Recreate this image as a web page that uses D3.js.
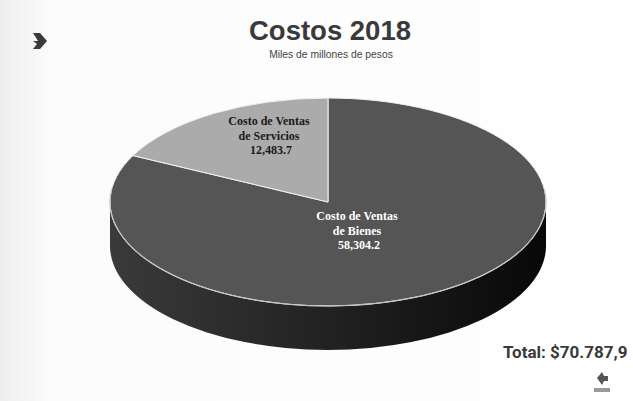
<!DOCTYPE html>
<html>
<head>
<meta charset="utf-8">
<script src="https://cdn.jsdelivr.net/npm/d3@7"></script>
<style>
  body { margin: 0; background: #fff; }
  svg { display: block; }
</style>
</head>
<body>
<svg id="chart" width="633" height="401"></svg>
<script>
// data
const categories = ["Costo de Ventas de Bienes", "Costo de Ventas de Servicios"];
const values = [58304.2, 12483.7];
const labelLines = [["Costo de Ventas", "de Bienes"], ["Costo de Ventas", "de Servicios"]];
const title = "Costos 2018";
const subtitle = "Miles de millones de pesos";

const W = 633, H = 401;
const cx = 328, cy = 202, rx = 218, ry = 104, depth = 44;

let svg = d3.select("#chart");
let defs = svg.append("defs");

// faint scan-like shading in background
let bg = defs.append("linearGradient").attr("id", "bgGrad")
    .attr("x1", 0).attr("y1", 0).attr("x2", 1).attr("y2", 0);
bg.append("stop").attr("offset", "0%").attr("stop-color", "#eeeeee");
bg.append("stop").attr("offset", "8%").attr("stop-color", "#fbfbfb");
bg.append("stop").attr("offset", "100%").attr("stop-color", "#ffffff");
svg.append("rect").attr("width", W).attr("height", H).attr("fill", "url(#bgGrad)");

let sideGrad = defs.append("linearGradient").attr("id", "sideGrad")
    .attr("x1", 0).attr("y1", 0).attr("x2", 1).attr("y2", 0);
sideGrad.append("stop").attr("offset", "0%").attr("stop-color", "#3a3a3a");
sideGrad.append("stop").attr("offset", "45%").attr("stop-color", "#242424");
sideGrad.append("stop").attr("offset", "100%").attr("stop-color", "#080808");

// title
svg.append("text")
    .attr("x", 330).attr("y", 40)
    .attr("text-anchor", "middle")
    .style("font-family", "Liberation Sans, Arial, sans-serif")
    .style("font-weight", "bold")
    .style("font-size", "27.5px")
    .attr("fill", "#3a3a3a")
    .text(title);
svg.append("text")
    .attr("x", 331).attr("y", 58)
    .attr("text-anchor", "middle")
    .style("font-family", "Liberation Sans, Arial, sans-serif")
    .style("font-size", "10.3px")
    .attr("fill", "#444")
    .text(subtitle);

// pie
let pie = d3.pie().sort(null).value(d => d);
let arcs = pie(values);

let pt = (a, dy) => [cx + rx * Math.sin(a), cy - ry * Math.cos(a) + (dy || 0)];

// side walls (front half only: angles PI/2 .. 3PI/2)
let sideG = svg.append("g");
arcs.forEach((d, i) => {
    let a0 = Math.max(d.startAngle, Math.PI / 2);
    let a1 = Math.min(d.endAngle, 3 * Math.PI / 2);
    if (a1 <= a0) return;
    let p0 = pt(a0), p1 = pt(a1), q1 = pt(a1, depth), q0 = pt(a0, depth);
    let large = (a1 - a0) > Math.PI ? 1 : 0;
    sideG.append("path")
        .attr("d", `M${p0}A${rx},${ry} 0 ${large} 1 ${p1}L${q1}A${rx},${ry} 0 ${large} 0 ${q0}Z`)
        .attr("fill", i === 0 ? "url(#sideGrad)" : "#777");
});

// top face
let arc = d3.arc().innerRadius(0).outerRadius(rx);
let colors = ["#555555", "#ababab"];
let topFace = svg.append("g")
    .attr("transform", `translate(${cx},${cy}) scale(1,${ry / rx})`);
topFace.selectAll("path")
    .data(arcs)
    .enter()
    .append("path")
    .attr("d", arc)
    .attr("fill", (d, i) => colors[i])
    .attr("stroke", "#f2f2f2")
    .attr("stroke-width", 1)
    .attr("vector-effect", "non-scaling-stroke");

// light rim along the front edge
{
    let p0 = pt(Math.PI / 2 - 0.12), p1 = pt(3 * Math.PI / 2 + 0.12);
    svg.append("path")
        .attr("d", `M${p0}A${rx},${ry} 0 1 1 ${p1}`)
        .attr("fill", "none")
        .attr("stroke", "#c4c4c4")
        .attr("stroke-width", 1.2);
}

// labels
let fmt = d3.formatLocale({decimal: ".", thousands: ",", grouping: [3]}).format(",.1f");
let labelPos = [[357, 220], [269, 125]];
let labelCol = ["#ffffff", "#1a1a1a"];
arcs.forEach((d, i) => {
    let t = svg.append("text")
        .attr("text-anchor", "middle")
        .style("font-family", "Liberation Serif, Times New Roman, serif")
        .style("font-weight", "bold")
        .style("font-size", "12px")
        .attr("fill", labelCol[i]);
    labelLines[i].concat([fmt(d.data)]).forEach((s, j) => {
        t.append("tspan")
            .attr("x", labelPos[i][0] + (j === 2 ? 2 : 0))
            .attr("y", labelPos[i][1] + j * 14.5)
            .text(s);
    });
});

// total
let total = d3.sum(values);
let fmtTotal = d3.formatLocale({decimal: ",", thousands: ".", grouping: [3]}).format(",.1f");
svg.append("text")
    .attr("x", 503).attr("y", 358)
    .style("font-family", "Roboto, Liberation Sans, Arial, sans-serif")
    .style("font-weight", "bold")
    .style("font-size", "17px")
    .attr("fill", "#3a3a3a")
    .text(`Total: $${fmtTotal(total)}`);

// small arrow mark top left
svg.append("path")
    .attr("d", "M33,33 L40,33 L47,41 L40,49 L33,49 L37,44 L33,41 L38,41 Z")
    .attr("fill", "#3a3a3a");

// small logo bottom right
let logo = svg.append("g").attr("transform", "translate(602,382)");
logo.append("path")
    .attr("d", "M-5,-4 L0,-10 L2,-6 L6,-6 L6,-1 L2,-1 L0,3 Z")
    .attr("fill", "#555");
logo.append("rect")
    .attr("x", -8).attr("y", 6).attr("width", 16).attr("height", 4)
    .attr("fill", "#999");
</script>
</body>
</html>
